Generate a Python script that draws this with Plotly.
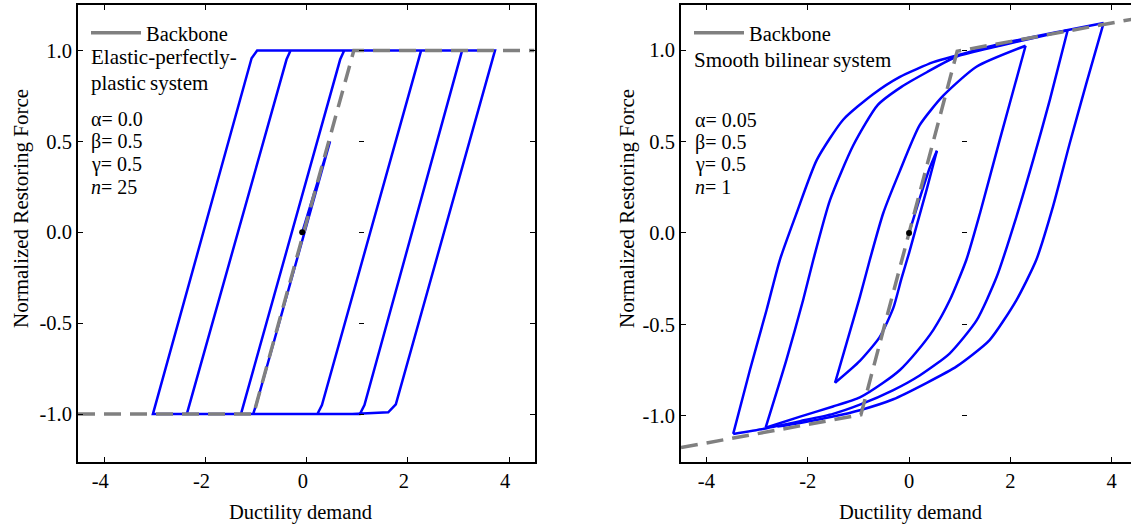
import plotly.graph_objects as go

W, H = 1131, 527

# ---------------- data: left panel (elastic-perfectly-plastic) ----------------
epp_x = [-0.09, 0.46, -1.00, -1.06, -1.30, 0.66, 0.74, 2.26, 0.30, 0.21, -2.37, -0.40, -0.32,
         3.07, 1.14, 1.05, -3.04, -1.09, -0.98, 3.72, 1.76, 1.61, 0.90]
epp_y = [0.00, 0.50, -0.95, -1.00, -1.00, 0.95, 1.00, 1.00, -0.95, -1.00, -1.00, 0.95, 1.00,
         1.00, -0.95, -1.00, -1.00, 0.957, 1.00, 1.00, -0.946, -0.99, -1.00]
bb1_x = [-4.52, -1.05, 0.93, 4.5]
bb1_y = [-1.0, -1.0, 1.0, 1.0]
origin1 = ([-0.09], [0.0])

# ---------------- data: right panel (smooth bilinear, Bouc-Wen) ----------------
bw_branches = [
    ([0.0, 0.2, 0.4, 0.55], [0.0, 0.18, 0.35, 0.45]),
    ([0.55, 0.35, 0.15, 0.0, -0.15, -0.31, -0.58, -0.97, -1.46],
     [0.45, 0.24, 0.04, -0.11, -0.25, -0.41, -0.57, -0.70, -0.82]),
    ([-1.46, -1.23, -0.97, -0.775, -0.51, -0.18, 0.21, 0.67, 1.33, 2.30],
     [-0.82, -0.60, -0.35, -0.148, 0.108, 0.34, 0.59, 0.75, 0.91, 1.025]),
    ([2.30, 1.79, 1.40, 1.13, 0.80, 0.48, 0.15, -0.18, -0.51, -0.97, -1.50, -2.15, -2.83],
     [1.025, 0.51, 0.108, -0.148, -0.37, -0.53, -0.65, -0.75, -0.82, -0.90, -0.95, -1.005, -1.066]),
    ([-2.83, -2.42, -2.09, -1.89, -1.56, -1.10, -0.62, -0.15, 0.35, 0.94, 1.79, 3.13],
     [-1.066, -0.695, -0.367, -0.148, 0.18, 0.48, 0.70, 0.80, 0.88, 0.966, 1.025, 1.11]),
    ([3.13, 2.78, 2.45, 2.12, 1.73, 1.33, 0.80, 0.21, -0.31, -0.97, -1.50, -2.15, -2.83, -3.47],
     [1.11, 0.73, 0.40, 0.09, -0.24, -0.48, -0.66, -0.78, -0.86, -0.94, -0.99, -1.03, -1.07, -1.10]),
    ([-3.47, -3.14, -2.81, -2.55, -2.22, -1.82, -1.30, -0.71, -0.18, 0.48, 0.94, 1.79, 3.11, 3.84],
     [-1.10, -0.75, -0.42, -0.148, 0.108, 0.40, 0.62, 0.76, 0.855, 0.935, 0.972, 1.035, 1.11, 1.15]),
    ([3.84, 3.50, 3.17, 2.84, 2.51, 2.12, 1.59, 0.94, 0.35, -0.31, -0.97, -1.50, -2.15, -2.6],
     [1.15, 0.82, 0.49, 0.144, -0.148, -0.367, -0.586, -0.73, -0.82, -0.91, -0.97, -1.005, -1.04, -1.06]),
]
bb2_x = [-4.5, -0.95, 0.95, 4.5]
bb2_y = [-1.175, -0.995, 0.995, 1.175]
origin2 = ([0.0], [0.0])

x_ticks = [-4, -2, 0, 2, 4]
x_ticktext = ["-4", "-2", "0", "2", "4"]
y_ticks = [-1.0, -0.5, 0.0, 0.5, 1.0]
y_ticktext = ["-1.0", "-0.5", "0.0", "0.5", "1.0"]

left_text = ["Elastic-perfectly-", "plastic\u2009system"]
right_text = ["Smooth bilinear\u2009system"]
left_params = ["\u03b1= 0.0", "\u03b2= 0.5", "\u03b3= 0.5", "<i>n</i>= 25"]
right_params = ["\u03b1= 0.05", "\u03b2= 0.5", "\u03b3= 0.5", "<i>n</i>= 1"]

FONT = "Liberation Serif"
BLUE = "#0000ff"
GRAY = "#808080"
DASH = "17px,9px"

fig = go.Figure()

# left panel
fig.add_trace(go.Scatter(x=epp_x, y=epp_y, mode="lines", line=dict(color=BLUE, width=2.5),
                         xaxis="x", yaxis="y", showlegend=False, hoverinfo="skip"))
fig.add_trace(go.Scatter(x=bb1_x, y=bb1_y, mode="lines", line=dict(color=GRAY, width=3.5, dash=DASH),
                         xaxis="x", yaxis="y", showlegend=False))
fig.add_trace(go.Scatter(x=[None], y=[None], mode="lines", name="Backbone",
                         line=dict(color=GRAY, width=3.5), xaxis="x", yaxis="y", legend="legend"))
fig.add_trace(go.Scatter(x=origin1[0], y=origin1[1], mode="markers",
                         marker=dict(color="black", size=6), xaxis="x", yaxis="y3", showlegend=False))

# right panel
for bx, by in bw_branches:
    fig.add_trace(go.Scatter(x=bx, y=by, mode="lines", line=dict(color=BLUE, width=2.5, shape="spline", smoothing=0.6),
                             xaxis="x2", yaxis="y2", showlegend=False, hoverinfo="skip"))
fig.add_trace(go.Scatter(x=bb2_x, y=bb2_y, mode="lines", line=dict(color=GRAY, width=3.5, dash=DASH),
                         xaxis="x2", yaxis="y2", showlegend=False))
fig.add_trace(go.Scatter(x=[None], y=[None], mode="lines", name="Backbone",
                         line=dict(color=GRAY, width=3.5), xaxis="x2", yaxis="y2", legend="legend2"))
fig.add_trace(go.Scatter(x=origin2[0], y=origin2[1], mode="markers",
                         marker=dict(color="black", size=6), xaxis="x2", yaxis="y4", showlegend=False))

px = lambda v: v / W
py = lambda v: 1 - v / H
ydom = [py(461.7), py(5)]

axis_common = dict(showgrid=False, zeroline=False, showline=True, linecolor="black", linewidth=2,
                   ticks="inside", ticklen=5, tickwidth=1, tickcolor="black",
                   tickfont=dict(family=FONT, size=20.5, color="black"))

fig.update_layout(
    width=W, height=H, margin=dict(l=0, r=0, t=0, b=0),
    paper_bgcolor="white", plot_bgcolor="white",
    xaxis=dict(domain=[px(78), px(534.5)], range=[-4.52, 4.5], anchor="y", mirror="ticks",
               tickvals=x_ticks, ticktext=x_ticktext, ticklabelshift=-4, **axis_common),
    yaxis=dict(domain=ydom, range=[-1.262, 1.25], anchor="x", mirror="ticks",
               tickvals=y_ticks, ticktext=y_ticktext, **axis_common),
    yaxis3=dict(overlaying="y", anchor="free", position=px(358.3), side="left", range=[-1.262, 1.25],
                showline=False, showgrid=False, zeroline=False, showticklabels=False,
                ticks="inside", ticklen=5, tickwidth=1, tickcolor="black", tickvals=y_ticks),
    xaxis2=dict(domain=[px(681), 1.0], range=[-4.5, 4.38], anchor="y2", mirror="ticks",
                tickvals=x_ticks, ticktext=x_ticktext, **axis_common),
    yaxis2=dict(domain=ydom, range=[-1.252, 1.248], anchor="x2", mirror=False,
                tickvals=y_ticks, ticktext=y_ticktext, **axis_common),
    yaxis4=dict(overlaying="y2", anchor="free", position=px(961), side="left", range=[-1.252, 1.248],
                showline=False, showgrid=False, zeroline=False, showticklabels=False,
                ticks="inside", ticklen=5, tickwidth=1, tickcolor="black", tickvals=y_ticks),
    legend=dict(x=px(86), y=py(13), xanchor="left", yanchor="top", bgcolor="rgba(0,0,0,0)",
                font=dict(family=FONT, size=20.5, color="black"), itemwidth=50),
    legend2=dict(x=px(689), y=py(13), xanchor="left", yanchor="top", bgcolor="rgba(0,0,0,0)",
                 font=dict(family=FONT, size=20.5, color="black"), itemwidth=50),
)

ann = []
def text(x, y, s, size=20, **kw):
    ann.append(dict(x=px(x), y=py(y), xref="paper", yref="paper", text=s, showarrow=False,
                    xanchor=kw.pop("xanchor", "left"), yanchor="middle",
                    font=dict(family=FONT, size=size, color="black"), **kw))

text(89, 57, left_text[0], size=21)
text(89, 83, left_text[1], size=21)
for i, s in enumerate(left_params):
    text(89, 119 + 22.5 * i, s, size=20)
text(692, 60, right_text[0], size=21)
for i, s in enumerate(right_params):
    text(693, 119.5 + 22.5 * i, s, size=20)

text(300, 512, "Ductility demand", size=20.5, xanchor="center")
text(910, 512, "Ductility demand", size=20.5, xanchor="center")
text(21, 209, "Normalized Restoring Force", size=21, xanchor="center", textangle=-90)
text(627, 209, "Normalized Restoring Force", size=21, xanchor="center", textangle=-90)

fig.update_layout(annotations=ann)
fig.write_html("out.html")
